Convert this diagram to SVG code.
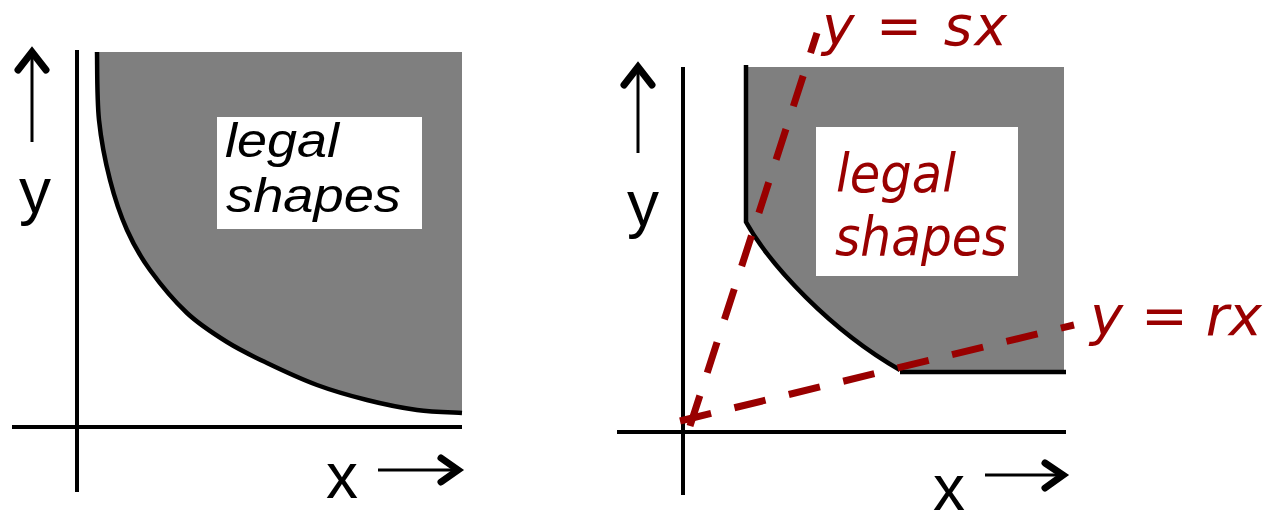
<svg xmlns="http://www.w3.org/2000/svg" width="1268" height="510" viewBox="0 0 1268 510">
  <style>
    .axis { stroke: #000; stroke-width: 4; fill: none; }
    .shaft { stroke: #000; stroke-width: 3; fill: none; }
    .head { stroke: #000; stroke-width: 7; fill: none; stroke-linecap: round; stroke-linejoin: miter; }
    .edge { stroke: #000; stroke-width: 4.5; fill: none; }
    .region { fill: #7f7f7f; }
    .box { fill: #fff; }
    .lbl { font-family: "Liberation Sans", Arial, sans-serif; font-size: 64px; fill: #000; text-anchor: middle; }
    .blk { font-family: "Liberation Sans", Arial, sans-serif; font-style: italic; font-size: 48px; fill: #000; }
    .red { font-family: "DejaVu Sans", Verdana, sans-serif; font-style: italic; fill: #990000; }
    .dash { stroke: #990000; stroke-width: 7; fill: none; stroke-dasharray: 32 24; }
  </style>

  <g id="left-panel">
    <path class="region" d="M97,52 C97.3,63.3 96.8,98.7 99,120 C101.2,141.3 105.3,161.7 110,180 C114.7,198.3 120.3,215 127,230 C133.7,245 140,256.2 150,270 C160,283.8 174.2,301 187,313 C199.8,325 213.7,333.7 227,342 C240.3,350.3 252,355.8 267,363 C282,370.2 300.3,378.8 317,385 C333.7,391.2 350.3,395.8 367,400 C383.7,404.2 401.2,407.8 417,410 C432.8,412.2 454.5,412.5 462,413 L462,52 Z"/>
    <path class="edge" d="M97,52 C97.3,63.3 96.8,98.7 99,120 C101.2,141.3 105.3,161.7 110,180 C114.7,198.3 120.3,215 127,230 C133.7,245 140,256.2 150,270 C160,283.8 174.2,301 187,313 C199.8,325 213.7,333.7 227,342 C240.3,350.3 252,355.8 267,363 C282,370.2 300.3,378.8 317,385 C333.7,391.2 350.3,395.8 367,400 C383.7,404.2 401.2,407.8 417,410 C432.8,412.2 454.5,412.5 462,413"/>
    <line class="axis" x1="77" y1="50" x2="77" y2="492"/>
    <line class="axis" x1="12" y1="427" x2="462" y2="427"/>
    <line class="shaft" x1="32" y1="142" x2="32" y2="54"/>
    <polyline class="head" points="18,70 32,52 46,70"/>
    <line class="shaft" x1="378" y1="470" x2="456" y2="470"/>
    <polyline class="head" points="441,458 458,470 441,482"/>
    <text class="lbl" x="35" y="213">y</text>
    <text class="lbl" x="342" y="498">x</text>
    <g id="left-label">
      <rect class="box" x="217" y="117" width="205" height="112"/>
      <text class="blk" x="225" y="157" textLength="114" lengthAdjust="spacingAndGlyphs">legal</text>
      <text class="blk" x="226" y="212" textLength="175" lengthAdjust="spacingAndGlyphs">shapes</text>
    </g>
  </g>

  <g id="right-panel">
    <path class="region" d="M746,67 L746,222 C770,265 830,330 900,370 L1064,370 L1064,67 Z"/>
    <path class="edge" d="M746,65 L746,222 C770,265 830,330 900,370"/>
    <line class="edge" x1="900" y1="372" x2="1066" y2="372"/>
    <line class="axis" x1="683" y1="67" x2="683" y2="495"/>
    <line class="axis" x1="617" y1="432" x2="1066" y2="432"/>
    <line class="shaft" x1="638" y1="153" x2="638" y2="69"/>
    <polyline class="head" points="624,85 638,67 652,85"/>
    <line class="shaft" x1="985" y1="475" x2="1060" y2="475"/>
    <polyline class="head" points="1045,463 1063,475 1045,488"/>
    <text class="lbl" x="643" y="226">y</text>
    <text class="lbl" x="949" y="510">x</text>
    <g id="right-label">
      <rect class="box" x="816" y="127" width="202" height="149"/>
      <text class="red" font-size="54" x="836" y="192" textLength="120" lengthAdjust="spacingAndGlyphs">legal</text>
      <text class="red" font-size="54" x="835" y="255" textLength="172" lengthAdjust="spacingAndGlyphs">shapes</text>
    </g>
  </g>

  <g id="connectors">
    <path class="dash" d="M690,426 L817,33"/>
    <path class="dash" d="M680,421 L1074,325"/>
  </g>

  <g id="line-labels">
    <text class="red" font-size="55" x="822" y="45" textLength="185" lengthAdjust="spacing">y = sx</text>
    <text class="red" font-size="56" x="1090" y="335">y = rx</text>
  </g>
</svg>
